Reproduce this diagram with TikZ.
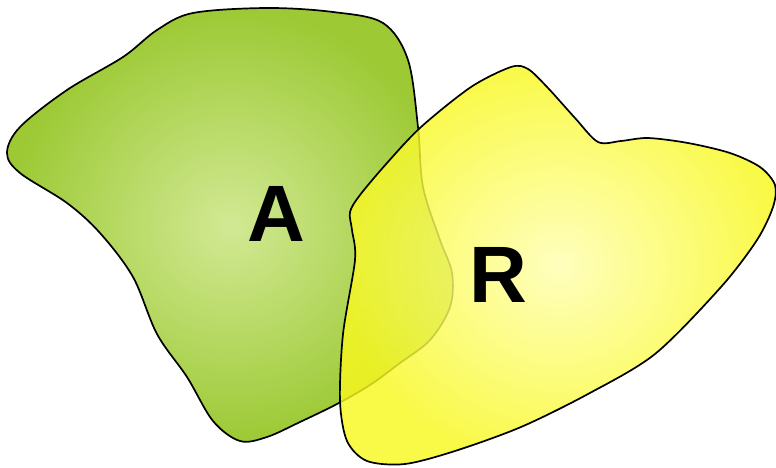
\documentclass[tikz,border=0pt]{standalone}
\usepackage{fontspec}
\setmainfont{Liberation Sans}
\begin{document}
\begin{tikzpicture}[x=1pt,y=-1pt]
\definecolor{gedge}{HTML}{9CC934}
\definecolor{gcenter}{HTML}{D2E994}
\definecolor{yedge}{HTML}{F8F820}
\definecolor{ycenter}{HTML}{FFFFB0}
\tikzset{
  outline/.style={draw=black, line width=1.7pt, line join=round},
  letter/.style={font=\fontsize{80}{80}\selectfont\bfseries, inner sep=0pt, text=black}
}
\useasboundingbox (0,0) rectangle (776,468);
% green region A
\shade[inner color=gcenter, outer color=gedge]
  plot[smooth cycle, tension=0.55] coordinates {
  (123,57) (157,30) (193,13) (267,8) (333,12) (383,23) (408,60) (418,127)
  (423,187) (440,240) (452,273) (450,307) (430,340) (400,363) (370,385)
  (337,404) (300,422) (267,437) (240,441) (213,421) (187,377) (157,334)
  (133,277) (100,233) (67,203) (20,173) (7,153) (20,127) (67,90)};
\draw[outline]
  plot[smooth cycle, tension=0.55] coordinates {
  (123,57) (157,30) (193,13) (267,8) (333,12) (383,23) (408,60) (418,127)
  (423,187) (440,240) (452,273) (450,307) (430,340) (400,363) (370,385)
  (337,404) (300,422) (267,437) (240,441) (213,421) (187,377) (157,334)
  (133,277) (100,233) (67,203) (20,173) (7,153) (20,127) (67,90)};
% yellow region R
\shade[inner color=ycenter, outer color=yedge, fill opacity=0.82]
  plot[smooth cycle, tension=0.5] coordinates {
  (511,67) (528,69) (548,88) (575,118) (598,142) (621,141) (648,138)
  (688,143) (730,153) (760,167) (775,185) (773,207) (757,240) (721,287)
  (655,354) (588,394) (521,427) (455,451) (405,464) (367,461) (347,441)
  (340,401) (343,334) (355,260) (352,230) (350,212) (360,195) (387,163)
  (421,127) (471,87)};
\draw[outline]
  plot[smooth cycle, tension=0.5] coordinates {
  (511,67) (528,69) (548,88) (575,118) (598,142) (621,141) (648,138)
  (688,143) (730,153) (760,167) (775,185) (773,207) (757,240) (721,287)
  (655,354) (588,394) (521,427) (455,451) (405,464) (367,461) (347,441)
  (340,401) (343,334) (355,260) (352,230) (350,212) (360,195) (387,163)
  (421,127) (471,87)};
\node[letter] (labA) at (276,214) {A};
\node[letter] (labR) at (498,275) {R};
\end{tikzpicture}
\end{document}
